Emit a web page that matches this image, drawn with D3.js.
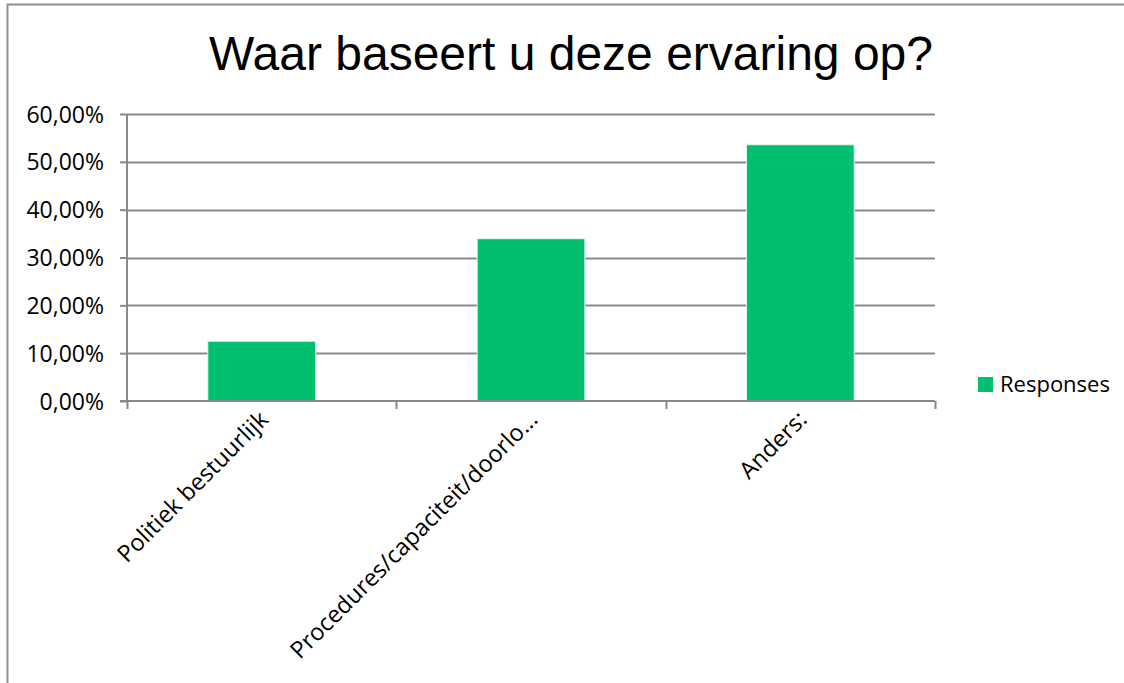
<!DOCTYPE html>
<html>
<head>
<meta charset="utf-8">
<script src="https://cdn.jsdelivr.net/npm/d3@7"></script>
<style>
  body { margin: 0; background: #fff; }
  .tick text { font-family: "Open Sans", sans-serif; fill: #000; }
</style>
</head>
<body>
<script>
'use strict';

var width = 1124;
var height = 683;

var categories = ['Politiek bestuurlijk', 'Procedures/capaciteit/doorlo...', 'Anders:'];
var responses = [0.125, 0.3393, 0.5357];
var yTicks = [0, 0.1, 0.2, 0.3, 0.4, 0.5, 0.6];
var seriesName = 'Responses';

var margin = { left: 127, right: 935, top: 114, bottom: 401 };
var green = '#00bf6f';
var gridColor = '#898989';

var svg = d3.select('body').append('svg').attr('width', width).attr('height', height);

// chart frame
svg.append('path')
  .attr('d', 'M7.5,' + height + 'V4.5H' + width)
  .attr('fill', 'none').attr('stroke', '#8e8e8e').attr('stroke-width', 2);

svg.append('text').attr('x', 571).attr('y', 70).attr('text-anchor', 'middle')
  .style('font-family', '"Liberation Sans", Arial, sans-serif').style('font-size', '48px')
  .text('Waar baseert u deze ervaring op?');

var x = d3.scaleBand().domain(categories).range([margin.left, margin.right])
  .paddingInner(0.6).paddingOuter(0.3);
var y = d3.scaleLinear().domain([0, 0.6]).range([margin.bottom, margin.top]);

// gridlines
svg.append('g').selectAll('line').data(yTicks.slice(1)).enter().append('line')
  .attr('x1', margin.left).attr('x2', margin.right)
  .attr('y1', function (d) { return Math.round(y(d)) + 0.5; })
  .attr('y2', function (d) { return Math.round(y(d)) + 0.5; })
  .attr('stroke', gridColor).attr('stroke-width', 2);

// y axis
var yAxis = svg.append('g').attr('transform', 'translate(' + margin.left + ',0)')
  .call(d3.axisLeft(y).tickValues(yTicks).tickSize(7).tickPadding(16)
    .tickFormat(function (d) { return d3.format('.2f')(d * 100).replace('.', ',') + '%'; }));
yAxis.selectAll('line, path').attr('stroke', gridColor).attr('stroke-width', 2);
yAxis.select('.domain').attr('d', 'M0,' + margin.top + 'V' + margin.bottom);
yAxis.selectAll('text').style('font-size', '23px').attr('dy', '0.35em');

// bars
svg.append('g').selectAll('rect').data(responses).enter().append('rect')
  .attr('x', function (d, i) { return x(categories[i]); })
  .attr('width', x.bandwidth())
  .attr('y', function (d) { return y(d); })
  .attr('height', function (d) { return y(0) - y(d); })
  .attr('fill', green).attr('stroke', '#e6f7ef').attr('stroke-width', 1);

// x axis baseline and category separators
var bounds = d3.range(categories.length + 1).map(function (i) {
  return margin.left + i * (margin.right - margin.left) / categories.length;
});
var xAxis = svg.append('g');
xAxis.append('line').attr('x1', margin.left - 7).attr('x2', margin.right)
  .attr('y1', margin.bottom).attr('y2', margin.bottom)
  .attr('stroke', gridColor).attr('stroke-width', 2);
xAxis.selectAll('.sep').data(bounds).enter().append('line')
  .attr('x1', function (d) { return Math.round(d) + 0.5; })
  .attr('x2', function (d) { return Math.round(d) + 0.5; })
  .attr('y1', margin.bottom).attr('y2', margin.bottom + 8)
  .attr('stroke', gridColor).attr('stroke-width', 2);

xAxis.selectAll('.lbl').data(categories).enter().append('text')
  .attr('transform', function (d) {
    return 'translate(' + (x(d) + x.bandwidth() / 2 + 8) + ',' + (margin.bottom + 20) + ') rotate(-45)';
  })
  .attr('text-anchor', 'end')
  .style('font-family', '"Open Sans", sans-serif').style('font-size', '23.5px')
  .text(function (d) { return d; });

// legend
var legend = svg.append('g').attr('transform', 'translate(978,377)');
legend.append('rect').attr('width', 15).attr('height', 15).attr('fill', green);
legend.append('text').attr('x', 22).attr('y', 15)
  .style('font-family', '"Open Sans", sans-serif').style('font-size', '22px')
  .text(seriesName);
</script>
</body>
</html>
